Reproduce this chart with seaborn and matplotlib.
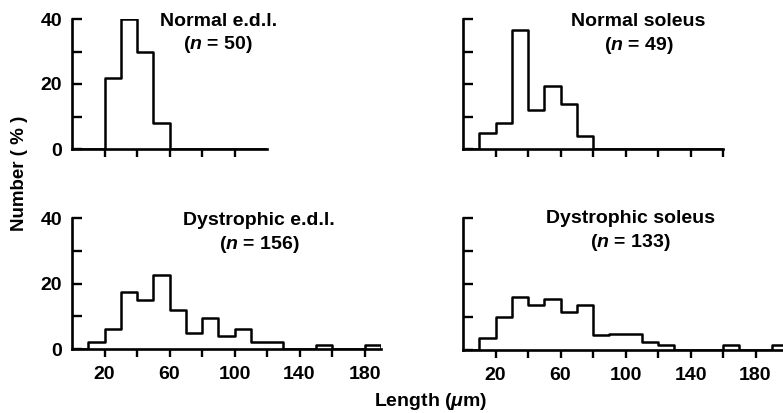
import numpy as np
import pandas as pd
import matplotlib
matplotlib.use("Agg")
import matplotlib.pyplot as plt
import seaborn as sns

sns.set_theme(style="white")
plt.rcParams['font.family'] = ['Liberation Sans', 'DejaVu Sans']
plt.rcParams['mathtext.fontset'] = 'custom'
plt.rcParams['mathtext.it'] = 'Liberation Sans:italic:bold'
plt.rcParams['mathtext.rm'] = 'Liberation Sans:bold'
plt.rcParams['text.color'] = 'black'
plt.rcParams['xtick.color'] = 'black'
plt.rcParams['ytick.color'] = 'black'

bin_width = 10
# percentages per 10-um bin, starting at 0 um
normal_edl = [0, 0, 22, 40, 30, 8, 0, 0, 0, 0, 0, 0]
normal_soleus = [0, 5, 8, 36.5, 12, 19.5, 14, 4, 0, 0, 0, 0, 0, 0, 0, 0]
dys_edl = [0, 2, 6, 17.5, 15, 22.5, 12, 5, 9.5, 4, 6, 2, 2, 0, 0, 1.3, 0, 0, 1.3]
dys_soleus = [0, 3.5, 10, 16, 13.5, 15.5, 11.5, 13.5, 4.5, 5, 5, 2.5, 1.5, 0, 0, 0, 1.5, 0, 0, 1.5]

titles = ["Normal e.d.l.", "Normal soleus", "Dystrophic e.d.l.", "Dystrophic soleus"]
ns = [50, 49, 156, 133]
xmax = [120, 160, 190, 200]
xticks_max = [100, 160, 180, 180]
title_pos = [(90, 39.3, 32.3), (108, 39.3, 32.0), (115, 39.3, 32.0), (103, 39.8, 32.6)]
ytick_values = [0, 10, 20, 30, 40]
ytick_labels = ["0", "", "20", "", "40"]
xtick_label_values = [20, 60, 100, 140, 180]

W, H = 783, 413
fig = plt.figure(figsize=(W / 100, H / 100), dpi=100)
scale = 1.625  # px per um

def axes_rect(left_px, top_px, bottom_px, xm):
    return [left_px / W, 1 - bottom_px / H, xm * scale / W, (bottom_px - top_px) / H]

rects = [
    axes_rect(72, 19, 149, xmax[0]),
    axes_rect(463, 19, 149, xmax[1]),
    axes_rect(72, 218, 349, xmax[2]),
    axes_rect(463, 218, 350, xmax[3]),
]
datasets = [normal_edl, normal_soleus, dys_edl, dys_soleus]

for i, (vals, rect) in enumerate(zip(datasets, rects)):
    ax = fig.add_axes(rect)
    vals = list(vals) + [0]
    nb = len(vals)
    centers = np.arange(nb) * bin_width + bin_width / 2
    df = pd.DataFrame({"length": centers, "pct": vals})
    sns.histplot(data=df, x="length", weights="pct", binwidth=bin_width,
                 binrange=(0, nb * bin_width), element="step",
                 fill=False, color="black", linewidth=1.8, ax=ax)
    ax.set_xlim(0, xmax[i])
    ax.set_ylim(0, 40)
    ax.set_xlabel("")
    ax.set_ylabel("")
    for s in ["top", "right"]:
        ax.spines[s].set_visible(False)
    for s in ["left", "bottom"]:
        ax.spines[s].set_color("black")
        ax.spines[s].set_linewidth(1.9)
    xt = list(range(20, xticks_max[i] + 1, 20))
    ax.set_xticks(xt)
    if i >= 2:
        ax.set_xticklabels([str(v) if v in xtick_label_values else "" for v in xt])
    else:
        ax.set_xticklabels([""] * len(xt))
    ax.set_yticks(ytick_values)
    if i % 2 == 0:
        ax.set_yticklabels(ytick_labels)
    else:
        ax.set_yticklabels([""] * len(ytick_values))
    ax.tick_params(axis="x", direction="out", length=6, width=1.7, colors="black",
                   labelsize=14, pad=6, bottom=True)
    ax.tick_params(axis="y", direction="in", length=7, width=1.7, colors="black",
                   labelsize=14, pad=7, left=True)
    for lab in ax.get_xticklabels() + ax.get_yticklabels():
        lab.set_fontweight("bold")
    tx, ty1, ty2 = title_pos[i]
    ax.text(tx, ty1, titles[i], ha="center", va="center", fontsize=14,
            fontweight="bold", color="black", clip_on=False)
    ax.text(tx, ty2, "($\\it{n}$ = %d)" % ns[i], ha="center", va="center",
            fontsize=14, fontweight="bold", color="black", clip_on=False)
    ax.patch.set_alpha(0)

fig.text(20 / W, 1 - 173 / H, "Number ( % )", rotation=90, ha="center", va="center",
         fontsize=13.5, fontweight="bold", color="black")
fig.text(431 / W, 1 - 402 / H, "Length ($\\it{\\mu}$m)", ha="center", va="center",
         fontsize=14, fontweight="bold", color="black")

fig.savefig("out.png", dpi=100)
